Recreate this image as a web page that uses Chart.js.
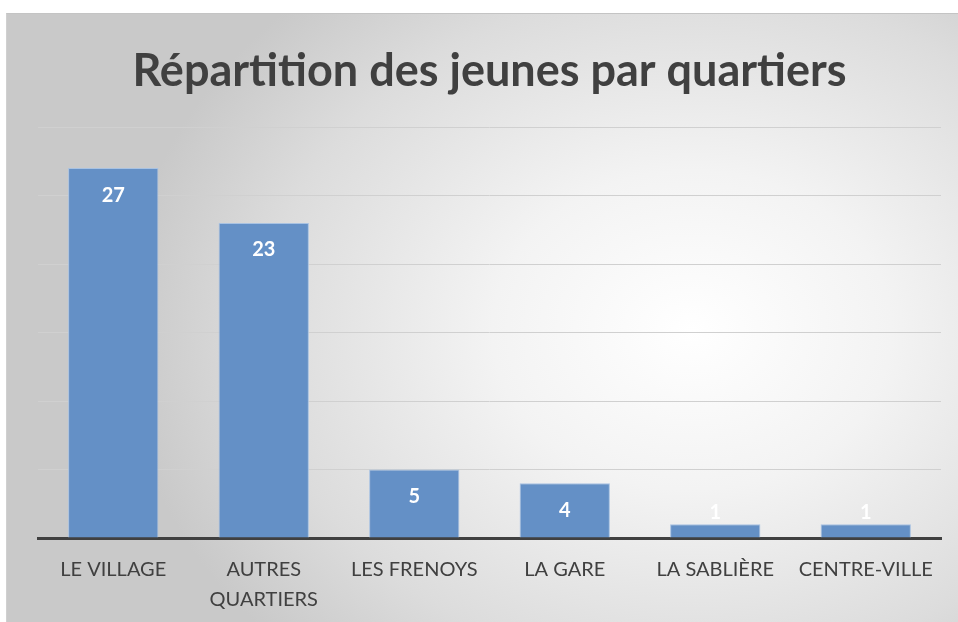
<!DOCTYPE html>
<html>
<head>
<meta charset="utf-8">
<script src="https://cdn.jsdelivr.net/npm/chart.js@4.4.1/dist/chart.umd.min.js"></script>
<style>
    html, body { margin: 0; padding: 0; background: #fff; }
    #frame {
        position: absolute;
        left: 6px; top: 13px;
        width: 952px; height: 609px;
        background: radial-gradient(ellipse 60% 75% at 72% 52%, #ffffff 0%, #f3f3f3 35%, #dcdcdc 75%, #c9c9c9 100%);
        border-top: 1px solid #c4c4c4;
        border-left: 1px solid #d0d0d0;
        box-sizing: border-box;
    }
    #chart { display: block; }
</style>
</head>
<body>
<div id="frame"><canvas id="chart" width="951" height="608"></canvas></div>
<script>
const categories = ['LE VILLAGE', ['AUTRES', 'QUARTIERS'], 'LES FRENOYS', 'LA GARE', 'LA SABLIÈRE', 'CENTRE-VILLE'];
const jeunes = [27, 23, 5, 4, 1, 1];
const chartTitle = 'Répartition des jeunes par quartiers';

// étiquettes blanches dans le haut des barres
const valueLabels = {
    id: 'valueLabels',
    afterDatasetsDraw(chart) {
        const c = chart.ctx;
        const meta = chart.getDatasetMeta(0);
        c.save();
        c.fillStyle = '#ffffff';
        c.font = 'bold 20px Lato';
        c.textAlign = 'center';
        c.textBaseline = 'middle';
        meta.data.forEach((bar, i) => {
            const y = Math.min(bar.y + 27, bar.base - 25);
            c.fillText(jeunes[i], bar.x, y);
        });
        c.restore();
    }
};

new Chart(document.getElementById('chart').getContext('2d'), {
    type: 'bar',
    data: {
        labels: categories,
        datasets: [{
            data: jeunes,
            backgroundColor: '#6490c6',
            borderColor: '#a8c2e2',
            borderWidth: 1,
            barPercentage: 0.6,
            categoryPercentage: 1
        }]
    },
    options: {
        responsive: false,
        animation: false,
        layout: { padding: { left: 31, right: 17, top: 0, bottom: -10 } },
        plugins: {
            legend: { display: false },
            tooltip: { enabled: false },
            title: {
                display: true,
                text: chartTitle,
                color: '#404040',
                font: { family: 'Lato', size: 45, weight: 'bold', lineHeight: 1.2 },
                padding: { top: 30, bottom: 29 }
            }
        },
        scales: {
            x: {
                grid: { display: false, drawTicks: false },
                border: { display: true, color: '#404040', width: 3 },
                ticks: {
                    color: '#404040',
                    font: { family: 'Lato', size: 20, lineHeight: 1.5 },
                    padding: 17,
                    maxRotation: 0,
                    autoSkip: false
                }
            },
            y: {
                min: 0,
                max: 30,
                ticks: { display: false, stepSize: 5 },
                grid: { color: '#d0d0d0', lineWidth: 1, drawTicks: false },
                border: { display: false }
            }
        }
    },
    plugins: [valueLabels]
});
</script>
</body>
</html>
